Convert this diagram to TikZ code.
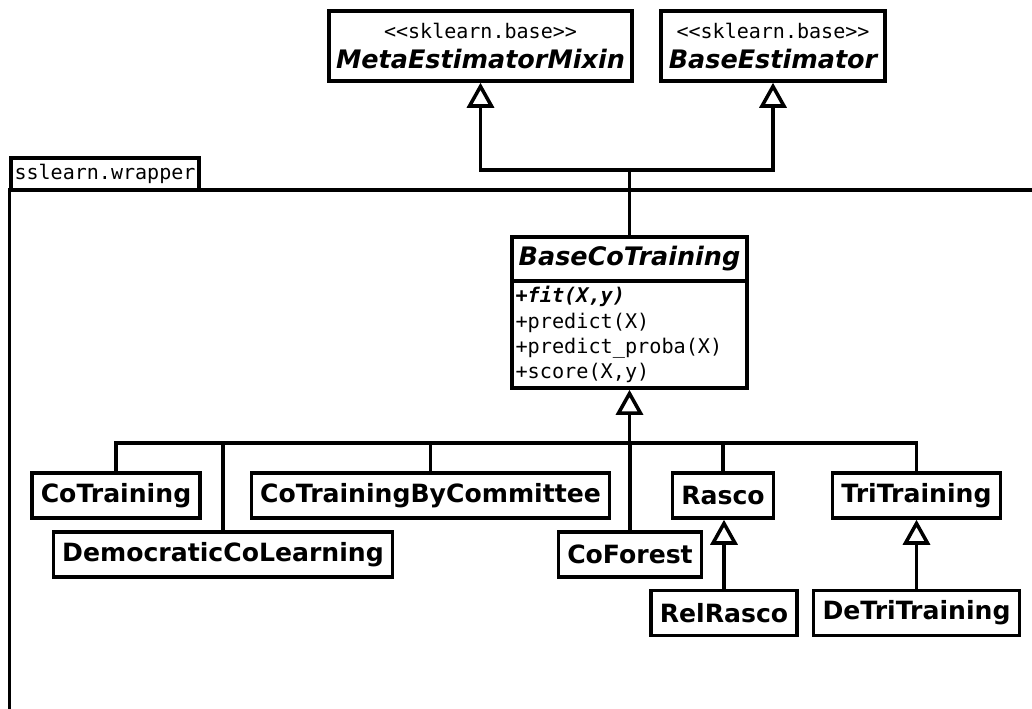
\documentclass[tikz,border=0pt]{standalone}
\usepackage{fontspec}
\setmainfont{DejaVu Sans}
\setmonofont{DejaVu Sans Mono}
\usetikzlibrary{arrows.meta, positioning}
\newcommand{\stereotxt}[1]{{\fontsize{11.4}{14}\selectfont\ttfamily\mdseries\upshape #1}}

\begin{document}
\begin{tikzpicture}[x=0.02cm, y=-0.02cm, line width=2pt,
    cls/.style={draw, inner xsep=5pt, inner ysep=0pt, minimum height=0.9cm,
      font=\fontsize{14.3}{16}\selectfont\bfseries},
    ext/.style={draw, inner sep=0pt, minimum height=1.4cm, align=center,
      font=\fontsize{14.5}{17}\selectfont\bfseries\itshape},
    meth/.style={draw, anchor=north, inner xsep=2pt, inner ysep=3pt, minimum height=2.12cm,
      text width=4.7cm-4pt, align=left, font=\fontsize{11.5}{14.4}\selectfont\ttfamily},
    inherit/.style={-{Triangle[open, length=0.5cm, width=0.54cm]}}]
  \useasboundingbox (0,0) rectangle (1032,708);

  % sklearn.base classes
  \node[ext, minimum width=6.06cm] (meta) at (480.5,46)
    {\stereotxt{<<sklearn.base>>}\\MetaEstimatorMixin};
  \node[ext, minimum width=4.48cm] (est) at (773,46)
    {\stereotxt{<<sklearn.base>>}\\BaseEstimator};

  % package sslearn.wrapper
  \node[draw, inner sep=0pt, minimum width=3.76cm, minimum height=0.64cm,
    font=\fontsize{11.4}{14}\selectfont\ttfamily] (pkg) at (105,174) {sslearn.wrapper};
  \draw (pkg.south west) ++(0,518) |- (1032,190);

  % abstract base
  \node[cls, inner xsep=1pt, font=\fontsize{14.5}{16}\selectfont\bfseries\itshape,
    minimum width=4.7cm, minimum height=0.88cm] (base) at (629.5,259) {BaseCoTraining};
  \node[meth, yshift=\pgflinewidth] (basem) at (base.south)
    {{\bfseries\itshape +fit(X,y)}\\+predict(X)\\+predict\_proba(X)\\+score(X,y)};

  \coordinate (top) at (base.north |- 0,170);
  \draw[inherit] (base.north) -- (top) -| (meta.south);
  \draw[inherit] (top) -| (est.south);

  % co-training methods
  \node[cls] (cotr) at (116,495.5) {CoTraining};
  \node[cls] (dcl) at (223,554.5) {DemocraticCoLearning};
  \node[cls] (cbc) at (430.5,495.5) {CoTrainingByCommittee};
  \node[cls] (cof) at (630,554.5) {CoForest};
  \node[cls] (rasco) at (723,495.5) {Rasco};
  \node[cls] (tritr) at (916.5,495.5) {TriTraining};
  \node[cls] (relrasco) at (724,613) {RelRasco};
  \node[cls] (detri) at (916.5,613) {DeTriTraining};

  \coordinate (bus) at (basem.south |- 0,443);
  \draw[inherit] (bus) -- (basem.south);
  \draw (cotr.north) |- (bus) -| (tritr.north);
  \foreach \n in {dcl, cbc, cof, rasco}
    \draw (\n.north) -- (\n.north |- bus);

  \draw[inherit] (relrasco.north) -- (relrasco.north |- rasco.south);
  \draw[inherit] (detri.north) -- (detri.north |- tritr.south);
\end{tikzpicture}
\end{document}
